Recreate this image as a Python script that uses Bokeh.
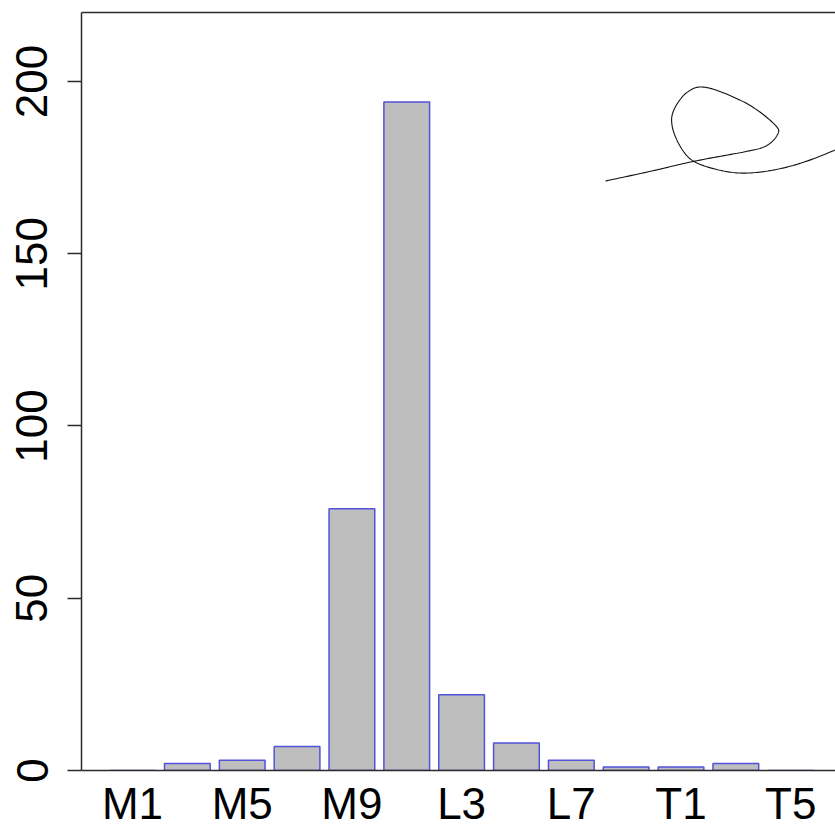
import numpy as np
from bokeh.plotting import figure
from bokeh.models import Range1d, FixedTicker, LinearAxis
from bokeh.embed import file_html
from bokeh.resources import INLINE

# Counts per stage (13 stages, every other name shown on the axis)
stages = ["M1", "M3", "M5", "M7", "M9", "M11", "L3", "L5", "L7", "L9", "T1", "T3", "T5"]
counts = [0, 2, 3, 7, 76, 194, 22, 8, 3, 1, 1, 2, 0]
y_ticks = [0, 50, 100, 150, 200]

# Free-hand scribble in the upper right, as anchor points (data units)
scribble_x = [8.625, 9.442, 10.233, 11.167, 11.542, 11.750, 11.725, 11.208, 10.475,
              10.117, 9.867, 9.842, 9.992, 10.233, 10.717, 11.208, 11.817, 12.425, 13.083]
scribble_y = [171.1, 173.9, 176.8, 179.6, 181.2, 184.3, 187.2, 193.5, 198.2,
              196.9, 191.6, 186.8, 181.0, 176.8, 174.2, 173.4, 174.7, 177.6, 182.0]

FONT = "Liberation Sans"
AXIS_COLOR = "#2b2b2b"


def smooth(xs, ys, n=16):
    """Catmull-Rom spline through the anchor points."""
    pts = np.column_stack([xs, ys]).astype(float)
    # judge curvature in screen-like proportions
    scale = np.array([54.85, 3.45])
    p = pts * scale
    p = np.vstack([p[0], p, p[-1]])
    out = []
    for i in range(1, len(p) - 2):
        p0, p1, p2, p3 = p[i - 1], p[i], p[i + 1], p[i + 2]
        for t in np.linspace(0, 1, n, endpoint=False):
            t2, t3 = t * t, t * t * t
            pt = 0.5 * ((2 * p1) + (-p0 + p2) * t + (2 * p0 - 5 * p1 + 4 * p2 - p3) * t2
                        + (-p0 + 3 * p1 - 3 * p2 + p3) * t3)
            out.append(pt)
    out.append(p[-2])
    out = np.array(out) / scale
    return out[:, 0], out[:, 1]


idx = list(range(len(stages)))

p = figure(width=835, height=830,
           x_range=Range1d(-0.93, 12.817), y_range=Range1d(0, 220),
           output_backend="svg", toolbar_location=None,
           min_border_left=81, min_border_right=0,
           min_border_top=12, min_border_bottom=59)
p.xgrid.visible = False
p.ygrid.visible = False
p.outline_line_color = None
p.background_fill_color = "white"
p.border_fill_color = "white"

p.vbar(x=idx, top=counts, bottom=0, width=1 / 1.2,
       fill_color="#bebebe", line_color="#5252dc", line_width=1.5)

sx, sy = smooth(scribble_x, scribble_y)
p.line(sx, sy, line_color="#111111", line_width=1.1)

# x axis: names at every other bar, no tick marks
xa = p.xaxis[0]
xa.ticker = FixedTicker(ticks=idx[::2])
xa.major_label_overrides = {i: stages[i] for i in idx[::2]}
xa.major_tick_out = 0
xa.major_tick_in = 0
xa.minor_tick_out = 0
xa.minor_tick_in = 0
xa.axis_line_color = AXIS_COLOR
xa.axis_line_width = 1.5
xa.major_label_text_font = FONT
xa.major_label_text_font_size = "44px"
xa.major_label_text_color = "#000000"
xa.major_label_standoff = 8

# y axis: rotated labels, outward ticks
ya = p.yaxis[0]
ya.ticker = FixedTicker(ticks=y_ticks)
ya.major_tick_out = 14
ya.major_tick_in = 0
ya.minor_tick_out = 0
ya.minor_tick_in = 0
ya.axis_line_color = AXIS_COLOR
ya.axis_line_width = 1.5
ya.major_tick_line_color = AXIS_COLOR
ya.major_tick_line_width = 1.5
ya.major_label_orientation = "vertical"
ya.major_label_text_font = FONT
ya.major_label_text_font_size = "44px"
ya.major_label_text_color = "#000000"
ya.major_label_standoff = 20

# top edge of the box
top = LinearAxis(ticker=FixedTicker(ticks=[]), axis_line_color=AXIS_COLOR,
                 axis_line_width=1.5, major_tick_out=0, major_tick_in=0,
                 minor_tick_out=0, minor_tick_in=0, major_label_standoff=0)
p.add_layout(top, "above")

open("out.html", "w").write(file_html(p, INLINE))
